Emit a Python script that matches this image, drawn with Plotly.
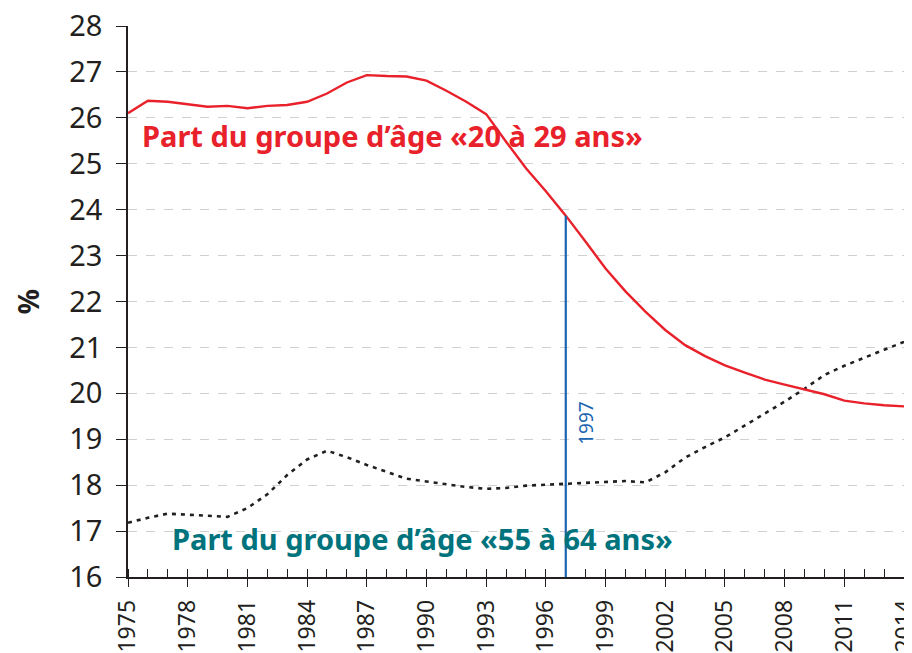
import plotly.graph_objects as go

years = list(range(1975, 2016))
share_20_29 = [26.10, 26.37, 26.35, 26.30, 26.24, 26.26, 26.21, 26.26, 26.28, 26.35,
               26.53, 26.77, 26.93, 26.91, 26.90, 26.81, 26.59, 26.35, 26.08, 25.48,
               24.90, 24.40, 23.87, 23.30, 22.72, 22.22, 21.78, 21.38, 21.05, 20.81,
               20.61, 20.45, 20.30, 20.19, 20.09, 19.98, 19.84, 19.78, 19.74, 19.72,
               19.69]
share_55_64 = [17.18, 17.29, 17.38, 17.36, 17.34, 17.31, 17.50, 17.80, 18.22, 18.56,
               18.75, 18.61, 18.44, 18.29, 18.14, 18.08, 18.02, 17.96, 17.92, 17.94,
               17.99, 18.01, 18.02, 18.05, 18.07, 18.09, 18.06, 18.28, 18.60, 18.83,
               19.04, 19.30, 19.55, 19.82, 20.10, 20.40, 20.60, 20.78, 20.95, 21.12,
               21.35]
tick_years = list(range(1975, 2015))
tick_labels = [str(y) if (y - 1975) % 3 == 0 else "" for y in tick_years]
marker_year = 1997

RED = "#E8212B"
TEAL = "#00737D"
BLUE = "#1A64B0"
INK = "#231F20"
FONT = "Noto Sans"

fig = go.Figure()
fig.add_trace(go.Scatter(x=years, y=share_55_64, mode="lines",
                         line=dict(color="#231F20", width=2.6, dash="4px,5px"),
                         showlegend=False, hoverinfo="skip"))
fig.add_trace(go.Scatter(x=years, y=share_20_29, mode="lines",
                         line=dict(color=RED, width=2.4),
                         showlegend=False, hoverinfo="skip"))

top = share_20_29[years.index(marker_year)]
fig.add_shape(type="line", x0=marker_year, x1=marker_year, y0=16, y1=top,
              xref="x", yref="y", line=dict(color=BLUE, width=2.2))

fig.add_annotation(x=1975.59, y=25.62, xref="x", yref="y", xanchor="left", yanchor="middle",
                   text="<b>Part du groupe d’âge «20 à 29 ans»</b>", showarrow=False,
                   font=dict(family=FONT, size=29, color=RED))
fig.add_annotation(x=1977.1, y=16.83, xref="x", yref="y", xanchor="left", yanchor="middle",
                   text="<b>Part du groupe d’âge «55 à 64 ans»</b>", showarrow=False,
                   font=dict(family=FONT, size=29, color=TEAL))
fig.add_annotation(x=1998.05, y=19.35, xref="x", yref="y", xanchor="center", yanchor="middle",
                   text="1997", textangle=-90, showarrow=False,
                   font=dict(family=FONT, size=19, color=BLUE))
fig.add_annotation(x=-0.128, y=0.5, xref="paper", yref="paper", xanchor="center", yanchor="middle",
                   text="<b>%</b>", textangle=-90, showarrow=False,
                   font=dict(family=FONT, size=28, color=INK))

# page body has an 8px default margin, so the figure is sized to fit the 912x653 window
fig.update_layout(
    width=904, height=645,
    margin=dict(l=120, r=0, t=18, b=76, autoexpand=False),
    plot_bgcolor="white", paper_bgcolor="white",
    font=dict(family=FONT, color=INK),
    xaxis=dict(range=[1975, 2014.4], tickmode="array", tickvals=tick_years, ticktext=tick_labels,
               tickangle=-90, ticks="outside", ticklen=8, tickcolor=INK, tickwidth=1,
               minor=dict(ticks="inside", ticklen=8, tickcolor=INK, tickwidth=1,
                          tickmode="array", tickvals=tick_years),
               ticklabelstandoff=4, ticklabeloverflow="allow", automargin=False,
               showline=True, linecolor=INK, linewidth=1.5, showgrid=False, zeroline=False,
               tickfont=dict(family=FONT, size=23, color=INK)),
    yaxis=dict(range=[16, 28], dtick=1, tick0=16, ticks="outside", ticklen=10,
               tickcolor=INK, tickwidth=1, ticklabelstandoff=8, automargin=False,
               ticklabeloverflow="allow",
               showline=True, linecolor=INK, linewidth=1.5,
               showgrid=True, gridcolor="#D0D0D0", griddash="dash", gridwidth=1.2,
               zeroline=False, tickfont=dict(family=FONT, size=29, color=INK)),
)

fig.write_html("out.html")
